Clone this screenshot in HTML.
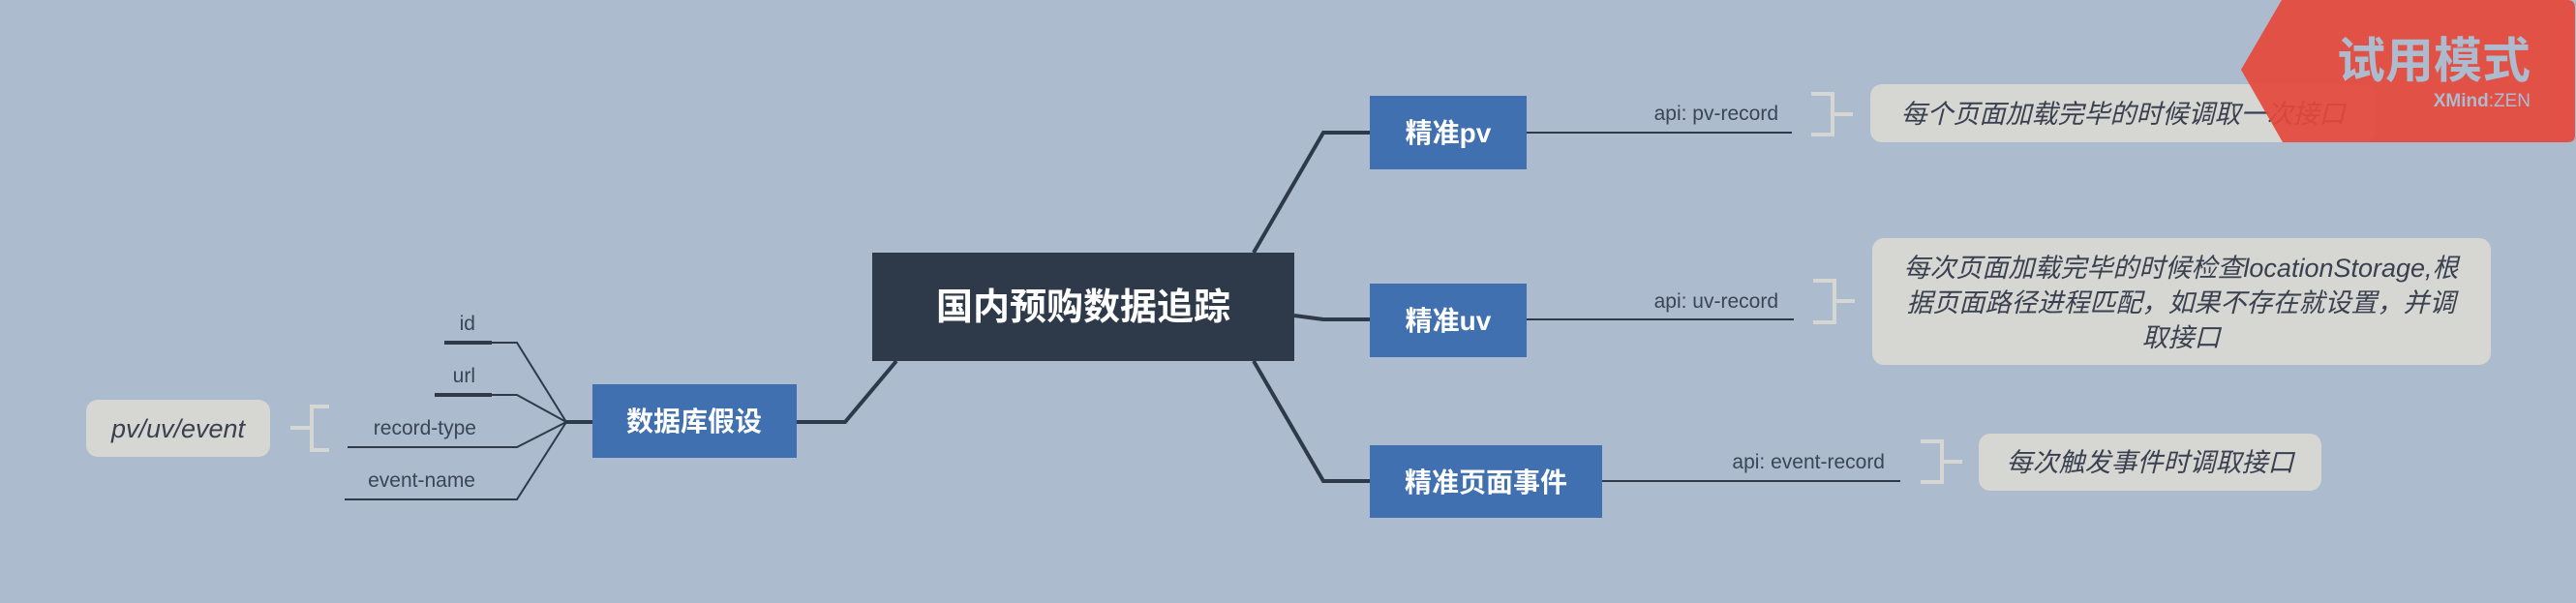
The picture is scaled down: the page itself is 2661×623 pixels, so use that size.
<!DOCTYPE html>
<html><head><meta charset="utf-8"><style>
html,body{margin:0;padding:0;width:2661px;height:623px;overflow:hidden;background:#adbbcf}
svg{display:block}
text{font-family:"Liberation Sans","Noto Sans CJK SC",sans-serif}
</style></head><body>
<svg width="2661" height="623" viewBox="0 0 2661 623" xmlns="http://www.w3.org/2000/svg">
<g fill="none" stroke="#2e3a4a" stroke-width="4">
<polyline points="926,373 873,436 823,436"/>
<polyline points="1295,261 1367,137 1415,137"/>
<polyline points="1337,326 1367,330 1415,330"/>
<polyline points="1295,373 1367,497 1415,497"/>
</g>
<g fill="none" stroke="#2e3a4a" stroke-width="2">
<line x1="612" y1="436" x2="585" y2="436" stroke-width="4"/>
<polyline points="585,436 534,354 459,354"/>
<polyline points="585,436 534,408 449,408"/>
<polyline points="585,436 534,462 359,462"/>
<polyline points="585,436 534,516 356,516"/>
<line x1="459" y1="354" x2="508" y2="354" stroke-width="4"/>
<line x1="449" y1="408" x2="508" y2="408" stroke-width="4"/>
<line x1="1577" y1="137" x2="1851" y2="137"/>
<line x1="1577" y1="330" x2="1853" y2="330"/>
<line x1="1655" y1="497" x2="1963" y2="497"/>
</g>
<g fill="#3a4556" font-size="21">
<text x="491" y="341" text-anchor="end">id</text>
<text x="491" y="395" text-anchor="end">url</text>
<text x="492" y="449" text-anchor="end">record-type</text>
<text x="491" y="503" text-anchor="end">event-name</text>
<text x="1837" y="124" text-anchor="end">api: pv-record</text>
<text x="1837" y="318" text-anchor="end">api: uv-record</text>
<text x="1947" y="484" text-anchor="end">api: event-record</text>
</g>
<g fill="none" stroke="#d6d7d2" stroke-width="4">
<polyline points="340,420 322,420 322,465 340,465"/><line x1="300" y1="442" x2="322" y2="442"/>
<polyline points="1871,97 1893,97 1893,139 1871,139"/><line x1="1893" y1="118" x2="1914" y2="118"/>
<polyline points="1873,290 1895,290 1895,333 1873,333"/><line x1="1895" y1="311" x2="1916" y2="311"/>
<polyline points="1984,456 2006,456 2006,498 1984,498"/><line x1="2006" y1="477" x2="2027" y2="477"/>
</g>
<rect x="901" y="261" width="436" height="112" fill="#2e3a4a"/>
<text x="1119" y="330" fill="#fff" font-size="38" font-weight="bold" text-anchor="middle">国内预购数据追踪</text>
<g fill="#4070b0">
<rect x="612" y="397" width="211" height="76"/>
<rect x="1415" y="99" width="162" height="76"/>
<rect x="1415" y="293" width="162" height="76"/>
<rect x="1415" y="460" width="240" height="75"/>
</g>
<g fill="#fff" font-size="28" font-weight="bold" text-anchor="middle">
<text x="717" y="445">数据库假设</text>
<text x="1496" y="147">精准pv</text>
<text x="1496" y="341">精准uv</text>
<text x="1535" y="508">精准页面事件</text>
</g>
<g fill="#d6d7d2">
<rect x="89" y="413" width="190" height="59" rx="12"/>
<rect x="1932" y="87" width="522" height="60" rx="12"/>
<rect x="1934" y="246" width="639" height="131" rx="12"/>
<rect x="2044" y="448" width="354" height="59" rx="12"/>
</g>
<g fill="#3a4050" font-size="27" font-style="italic" text-anchor="middle">
<text x="184" y="452">pv/uv/event</text>
<text x="2193" y="127">每个页面加载完毕的时候调取一次接口</text>
<text x="2253" y="286">每次页面加载完毕的时候检查locationStorage,根</text>
<text x="2253" y="322">据页面路径进程匹配，如果不存在就设置，并调</text>
<text x="2253" y="358">取接口</text>
<text x="2221" y="487">每次触发事件时调取接口</text>
</g>
<path d="M2357,0 L2652,0 Q2660,0 2660,8 L2660,140 Q2660,147 2652,147 L2358,147 L2315,72 Z" fill="#e5483b" fill-opacity="0.92"/>
<text x="2614" y="80" fill="#adbbcf" font-size="50" font-weight="bold" text-anchor="end">试用模式</text>
<text x="2614" y="110" fill="#adbbcf" font-size="19" text-anchor="end"><tspan font-weight="bold">XMind</tspan>:ZEN</text>
</svg>
</body></html>
